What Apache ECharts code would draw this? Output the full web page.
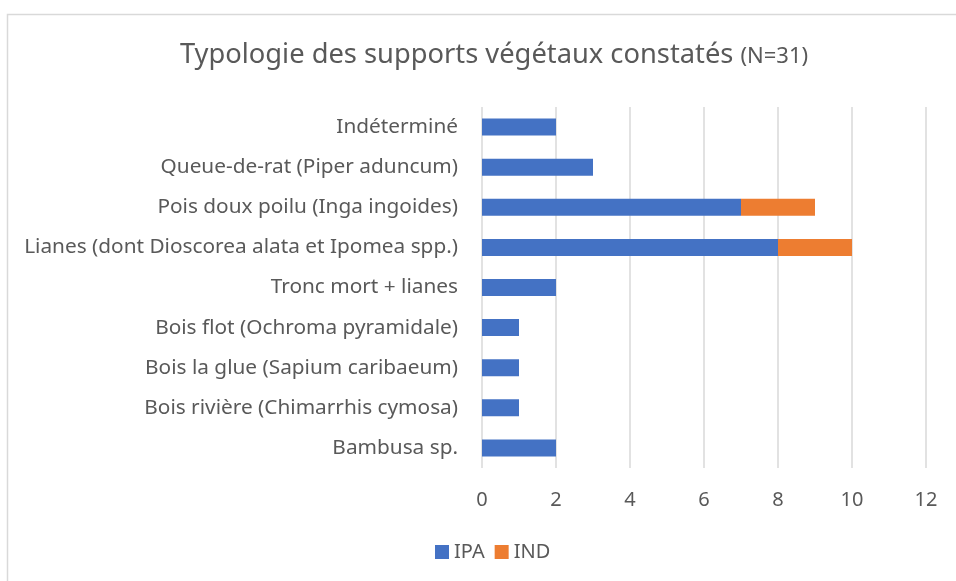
<!DOCTYPE html>
<html>
<head>
<meta charset="utf-8">
<script src="https://cdn.jsdelivr.net/npm/echarts@6/dist/echarts.min.js"></script>
<style>
  html, body { margin: 0; padding: 0; background: #fff; }
  #main { width: 956px; height: 581px; }
</style>
</head>
<body>
<div id="main"></div>
<script>
const chart = echarts.init(document.getElementById('main'));

// bottom to top, as the category axis draws them
const categories = [
  'Bambusa sp.',
  'Bois rivière (Chimarrhis cymosa)',
  'Bois la glue (Sapium caribaeum)',
  'Bois flot (Ochroma pyramidale)',
  'Tronc mort + lianes',
  'Lianes (dont Dioscorea alata et Ipomea spp.)',
  'Pois doux poilu (Inga ingoides)',
  'Queue-de-rat (Piper aduncum)',
  'Indéterminé'
];
const ipa = [2, 1, 1, 1, 2, 8, 7, 3, 2];
const ind = [0, 0, 0, 0, 0, 2, 2, 0, 0];

const font = 'Noto Sans';
const grey = '#595959';

chart.setOption({
  textStyle: { fontFamily: font },
  graphic: [{
    type: 'rect',
    shape: { x: 7.5, y: 14.5, width: 1000, height: 700 },
    style: { fill: 'none', stroke: '#d9d9d9', lineWidth: 1.5 },
    silent: true
  }],
  title: {
    text: '{a|Typologie des supports végétaux constatés}{b|(N=31)}',
    left: 489,
    top: 37,
    textAlign: 'center',
    textStyle: {
      fontWeight: 'normal',
      rich: {
        a: { fontSize: 27.3, color: grey, fontFamily: font, fontWeight: 'normal' },
        b: { fontSize: 22, color: grey, fontFamily: font, fontWeight: 'normal', padding: [3, 0, 0, 7] }
      }
    }
  },
  legend: {
    bottom: 14,
    left: 430,
    itemWidth: 14,
    itemHeight: 14,
    itemGap: 10,
    icon: 'rect',
    textStyle: { fontSize: 20, color: grey, fontFamily: font, padding: [0, 0, 0, 0] },
    data: ['IPA', 'IND']
  },
  grid: { left: 482, right: 30, top: 107, bottom: 113, containLabel: false },
  xAxis: {
    type: 'value',
    min: 0,
    max: 12,
    interval: 2,
    axisLine: { show: false },
    axisTick: { show: false },
    splitLine: { lineStyle: { color: '#d9d9d9', width: 1.5 } },
    axisLabel: { fontSize: 20, color: grey, margin: 22 }
  },
  yAxis: {
    type: 'category',
    data: categories,
    axisLine: { show: false },
    axisTick: { show: false },
    axisLabel: { fontSize: 20.8, color: grey, margin: 24 }
  },
  series: [
    {
      name: 'IPA', type: 'bar', stack: 'total', data: ipa,
      barWidth: 17, itemStyle: { color: '#4472C4' }
    },
    {
      name: 'IND', type: 'bar', stack: 'total', data: ind,
      barWidth: 17, itemStyle: { color: '#ED7D31' }
    }
  ]
});
</script>
</body>
</html>
